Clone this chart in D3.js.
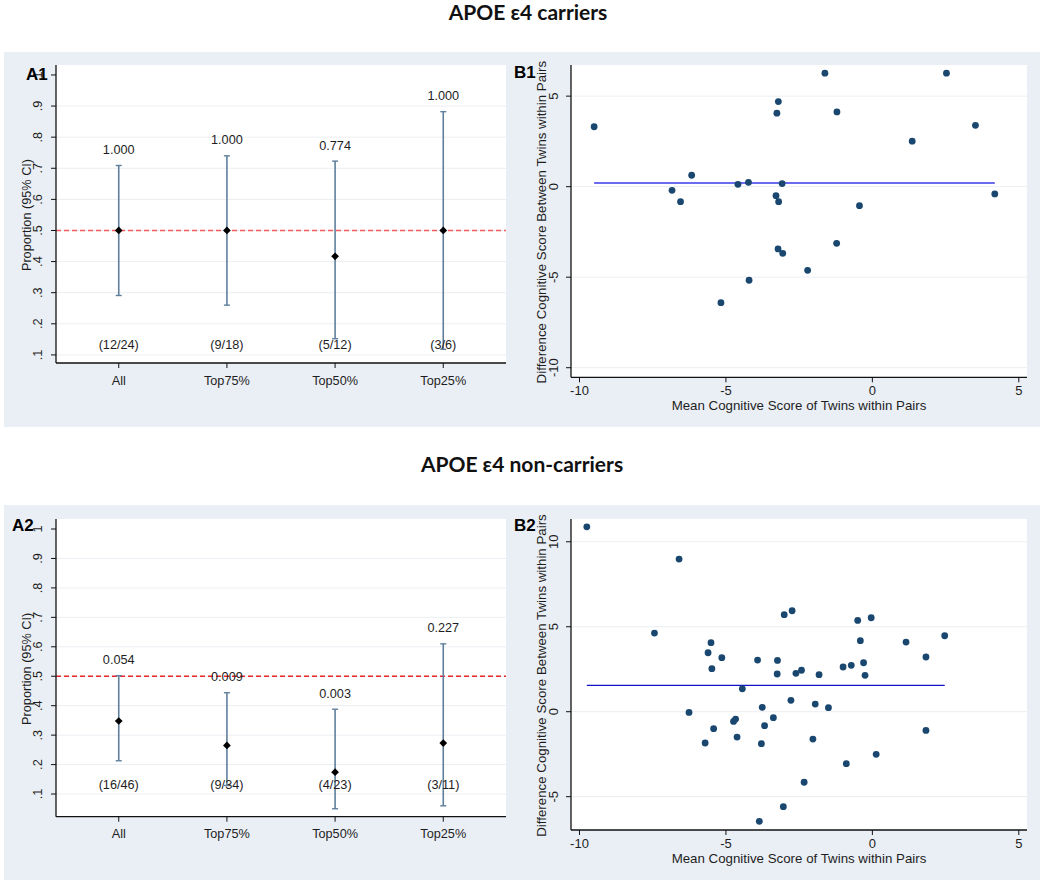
<!DOCTYPE html>
<html><head><meta charset="utf-8">
<script src="https://cdn.jsdelivr.net/npm/d3@7"></script>
<style>
body{margin:0;background:#fff}
text{font-family:"Liberation Sans",Arial,sans-serif;fill:#1e1e1e}
</style>
</head><body><svg id="c" width="1045" height="885"></svg>
<script>
// ---------- data ----------
const categories = ["All", "Top75%", "Top50%", "Top25%"];
const propTicks = [0.1, 0.2, 0.3, 0.4, 0.5, 0.6, 0.7, 0.8, 0.9, 1];
const propTickLabels = [".1", ".2", ".3", ".4", ".5", ".6", ".7", ".8", ".9", "1"];
const refValue = 0.5;
const countLabelValue = 0.132;

const a1Prop = [0.500, 0.500, 0.417, 0.500];
const a1Lo   = [0.291, 0.260, 0.152, 0.118];
const a1Hi   = [0.709, 0.740, 0.723, 0.882];
const a1PVal = ["1.000", "1.000", "0.774", "1.000"];
const a1Counts = ["(12/24)", "(9/18)", "(5/12)", "(3/6)"];

const a2Prop = [0.348, 0.265, 0.174, 0.273];
const a2Lo   = [0.213, 0.129, 0.050, 0.060];
const a2Hi   = [0.502, 0.444, 0.388, 0.610];
const a2PVal = ["0.054", "0.009", "0.003", "0.227"];
const a2Counts = ["(16/46)", "(9/34)", "(4/23)", "(3/11)"];

const scatterXTicks = [-10, -5, 0, 5];
const b1YTicks = [-10, -5, 0, 5];
const b2YTicks = [-5, 0, 5, 10];

const b1X = [-9.50, -6.17, -6.84, -6.55, -4.59, -4.23, -4.21, -5.17, -3.21, -3.26, -3.29, -3.20,
             -3.22, -3.08, -1.62, 2.53, -1.21, 3.52, 1.36, 4.18, -0.44, -3.06, -1.22, -2.21];
const b1Y = [3.31, 0.63, -0.20, -0.83, 0.13, 0.24, -5.17, -6.41, 4.70, 4.06, -0.50, -0.83,
             -3.44, 0.17, 6.27, 6.27, 4.13, 3.39, 2.51, -0.40, -1.05, -3.68, -3.13, -4.62];
const b1Mean = 0.2;

const b2X = [-9.75, -6.60, -7.44, -5.51, -5.61, -5.14, -5.48, -4.44, -6.26, -4.74, -4.67, -5.42,
             -5.71, -4.62, -3.92, -3.24, -3.25, -3.76, -3.68, -3.38, -3.79, -3.86,
             -3.01, -2.74, -0.50, -0.04, -0.41, 1.15, 2.47, 1.83, -2.61, -2.42, -1.82, -1.00,
             -0.72, -0.30, -0.25, -2.78, -1.95, -1.50, -2.03, 1.83, 0.13, -0.89, -2.33, -3.04];
const b2Y = [10.88, 8.98, 4.63, 4.06, 3.47, 3.18, 2.53, 1.35, -0.04, -0.57, -0.43, -1.00,
             -1.84, -1.49, 3.04, 3.02, 2.22, 0.26, -0.82, -0.35, -1.88, -6.45,
             5.71, 5.94, 5.37, 5.53, 4.18, 4.10, 4.47, 3.22, 2.26, 2.44, 2.18, 2.63,
             2.73, 2.88, 2.14, 0.67, 0.45, 0.24, -1.61, -1.10, -2.51, -3.06, -4.15, -5.59];
const b2Mean = 1.55;

const rowTitles = ["APOE \u03b54 carriers", "APOE \u03b54 non-carriers"];

// ---------- drawing ----------
const svg = d3.select("#c");
svg.append("rect").attr("width", 1045).attr("height", 885).attr("fill", "#fff");

const BG = "#eaeff5";
svg.append("rect").attr("x", 4).attr("y", 52).attr("width", 1036).attr("height", 375).attr("fill", BG);
svg.append("rect").attr("x", 4).attr("y", 505).attr("width", 1036).attr("height", 375).attr("fill", BG);

svg.append("text").attr("x", 528).attr("y", 20).attr("text-anchor", "middle")
  .style("font-family", "Lato,'Open Sans',sans-serif").style("font-weight", "bold")
  .style("font-size", "21px").style("fill", "#111").text(rowTitles[0]);
svg.append("text").attr("x", 522).attr("y", 472).attr("text-anchor", "middle")
  .style("font-family", "Lato,'Open Sans',sans-serif").style("font-weight", "bold")
  .style("font-size", "21px").style("fill", "#111").text(rowTitles[1]);

const FSA = "12.7px";
const FSB = "13px";

function ciPanel(c) {
  const g = svg.append("g");
  const x = d3.scalePoint().domain(categories).range([c.left, c.right]).padding(0.58);
  const y = d3.scaleLinear().domain(c.yDom).range([c.bottom, c.top]);
  g.append("rect").attr("x", c.left).attr("y", c.top).attr("width", c.right - c.left)
    .attr("height", c.bottom - c.top).attr("fill", "#fff");
  g.selectAll(".grid").data(propTicks.filter(t => t < 1)).join("line")
    .attr("x1", c.left).attr("x2", c.right).attr("y1", d => y(d)).attr("y2", d => y(d))
    .attr("stroke", "#ebeef2").attr("stroke-width", 1);
  g.append("line").attr("x1", c.left).attr("x2", c.right)
    .attr("y1", y(refValue)).attr("y2", y(refValue))
    .attr("stroke", c.refColor).attr("stroke-width", 1.3).attr("stroke-dasharray", "5,3");
  const idx = d3.range(categories.length);
  const eb = "#5f7f9c";
  g.selectAll(".ci").data(idx).join("line")
    .attr("x1", i => x(categories[i])).attr("x2", i => x(categories[i]))
    .attr("y1", i => y(c.lo[i])).attr("y2", i => y(c.hi[i]))
    .attr("stroke", eb).attr("stroke-width", 1.6);
  ["lo", "hi"].forEach(k => {
    g.selectAll(".cap" + k).data(idx).join("line")
      .attr("x1", i => x(categories[i]) - 3).attr("x2", i => x(categories[i]) + 3)
      .attr("y1", i => y(c[k][i])).attr("y2", i => y(c[k][i]))
      .attr("stroke", eb).attr("stroke-width", 1.4);
  });
  g.selectAll(".pt").data(idx).join("path")
    .attr("d", d3.symbol(d3.symbolSquare, 30))
    .attr("transform", i => `translate(${x(categories[i])},${y(c.prop[i])}) rotate(45)`)
    .attr("fill", "#000");
  g.selectAll(".pv").data(idx).join("text")
    .attr("x", i => x(categories[i])).attr("y", i => y(c.hi[i]) - 11.5)
    .attr("text-anchor", "middle").style("font-size", FSA).text(i => c.pval[i]);
  g.selectAll(".cnt").data(idx).join("text")
    .attr("x", i => x(categories[i])).attr("y", y(countLabelValue) + 4.5)
    .attr("text-anchor", "middle").style("font-size", FSA).text(i => c.counts[i]);
  g.append("line").attr("x1", c.left).attr("x2", c.left).attr("y1", c.top).attr("y2", c.bottom)
    .attr("stroke", "#111").attr("stroke-width", 1.3);
  g.append("line").attr("x1", c.left).attr("x2", c.right).attr("y1", c.bottom).attr("y2", c.bottom)
    .attr("stroke", "#111").attr("stroke-width", 1.3);
  g.selectAll(".yt").data(propTicks).join("line")
    .attr("x1", c.left - 5).attr("x2", c.left).attr("y1", d => y(d)).attr("y2", d => y(d))
    .attr("stroke", "#111");
  g.selectAll(".ytl").data(propTicks).join("text")
    .attr("transform", d => `translate(${c.left - 18},${y(d)}) rotate(-90)`)
    .attr("dy", "0.35em").attr("text-anchor", "middle").style("font-size", FSA)
    .text((d, i) => propTickLabels[i]);
  g.selectAll(".xt").data(categories).join("line")
    .attr("x1", d => x(d)).attr("x2", d => x(d)).attr("y1", c.bottom).attr("y2", c.bottom + 5)
    .attr("stroke", "#111");
  g.selectAll(".xtl").data(categories).join("text")
    .attr("x", d => x(d)).attr("y", c.bottom + 21.5).attr("text-anchor", "middle")
    .style("font-size", FSA).text(d => d);
  g.append("text")
    .attr("transform", `translate(${c.left - 29.5},${(c.top + c.bottom) / 2 + 1}) rotate(-90)`)
    .attr("dy", "0.35em").attr("text-anchor", "middle").style("font-size", FSA)
    .text("Proportion (95% CI)");
  g.append("text").attr("x", c.labelX).attr("y", c.labelY)
    .style("font-weight", "bold").style("font-size", "17px").style("fill", "#000").text(c.label);
}

function scatterPanel(c) {
  const g = svg.append("g");
  const x = d3.scaleLinear().domain([-10.29, 5.28]).range([c.left, c.right]);
  const y = d3.scaleLinear().domain(c.yDom).range([c.bottom, c.top]);
  g.append("rect").attr("x", c.left).attr("y", c.top).attr("width", c.right - c.left)
    .attr("height", c.bottom - c.top).attr("fill", "#fff");
  g.selectAll(".grid").data(c.yTicks).join("line")
    .attr("x1", c.left).attr("x2", c.right).attr("y1", d => y(d)).attr("y2", d => y(d))
    .attr("stroke", "#ebeef2").attr("stroke-width", 1);
  const ext = d3.extent(c.xs);
  g.append("line").attr("x1", x(ext[0])).attr("x2", x(ext[1]))
    .attr("y1", y(c.mean)).attr("y2", y(c.mean))
    .attr("stroke", c.lineColor).attr("stroke-width", c.lineWidth);
  g.selectAll(".dot").data(d3.range(c.xs.length)).join("circle")
    .attr("cx", i => x(c.xs[i])).attr("cy", i => y(c.ys[i])).attr("r", 3.4)
    .attr("fill", "#1a476f");
  g.append("line").attr("x1", c.left).attr("x2", c.left).attr("y1", c.top).attr("y2", c.bottom)
    .attr("stroke", "#111").attr("stroke-width", 1.3);
  g.append("line").attr("x1", c.left).attr("x2", c.right).attr("y1", c.bottom).attr("y2", c.bottom)
    .attr("stroke", "#111").attr("stroke-width", 1.3);
  g.selectAll(".yt").data(c.yTicks).join("line")
    .attr("x1", c.left - 5).attr("x2", c.left).attr("y1", d => y(d)).attr("y2", d => y(d))
    .attr("stroke", "#111");
  g.selectAll(".ytl").data(c.yTicks).join("text")
    .attr("transform", d => `translate(${c.left - 18},${y(d)}) rotate(-90)`)
    .attr("dy", "0.35em").attr("text-anchor", "middle").style("font-size", FSB).text(d => d);
  g.selectAll(".xt").data(scatterXTicks).join("line")
    .attr("x1", d => x(d)).attr("x2", d => x(d)).attr("y1", c.bottom).attr("y2", c.bottom + 5)
    .attr("stroke", "#111");
  g.selectAll(".xtl").data(scatterXTicks).join("text")
    .attr("x", d => x(d)).attr("y", c.bottom + 18).attr("text-anchor", "middle")
    .style("font-size", FSB).text(d => d);
  g.append("text").attr("x", (c.left + c.right) / 2).attr("y", c.bottom + 32.5)
    .attr("text-anchor", "middle").style("font-size", "13.3px")
    .text("Mean Cognitive Score of Twins within Pairs");
  g.append("text")
    .attr("transform", `translate(${c.left - 29.5},${(c.top + c.bottom) / 2 + 1}) rotate(-90)`)
    .attr("dy", "0.35em").attr("text-anchor", "middle").style("font-size", "13.3px")
    .text("Difference Cognitive Score Between Twins within Pairs");
  g.append("text").attr("x", c.labelX).attr("y", c.labelY)
    .style("font-weight", "bold").style("font-size", "17px").style("fill", "#000").text(c.label);
}

ciPanel({left: 56, right: 506, top: 65, bottom: 363, yDom: [0.074, 1.032],
  prop: a1Prop, lo: a1Lo, hi: a1Hi, pval: a1PVal, counts: a1Counts,
  refColor: "#f25a5a", label: "A1", labelX: 26, labelY: 80});
ciPanel({left: 56, right: 506, top: 519, bottom: 816.7, yDom: [0.023, 1.034],
  prop: a2Prop, lo: a2Lo, hi: a2Hi, pval: a2PVal, counts: a2Counts,
  refColor: "#e8262a", label: "A2", labelX: 12, labelY: 531});
scatterPanel({left: 571, right: 1027, top: 65, bottom: 377.3, yDom: [-10.53, 6.72],
  xs: b1X, ys: b1Y, mean: b1Mean, yTicks: b1YTicks, lineColor: "#6b6bf0", lineWidth: 2,
  label: "B1", labelX: 514, labelY: 78});
scatterPanel({left: 571, right: 1027, top: 519, bottom: 830, yDom: [-6.96, 11.34],
  xs: b2X, ys: b2Y, mean: b2Mean, yTicks: b2YTicks, lineColor: "#1414c8", lineWidth: 1.4,
  label: "B2", labelX: 514, labelY: 531});
</script></body></html>
